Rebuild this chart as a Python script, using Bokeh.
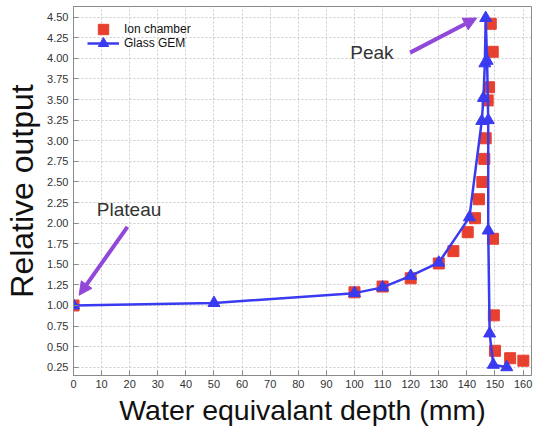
from bokeh.plotting import figure
from bokeh.models import (FixedTicker, NumeralTickFormatter, Arrow, NormalHead,
                          Label, Range1d, Legend, LegendItem)
from bokeh.embed import file_html
from bokeh.resources import INLINE

# ---- data ----
ion_x = [0, 100, 110, 120, 130, 135.2, 140.3, 142.9, 144.3, 145.5, 146.2, 146.7,
         147.4, 147.9, 148.5, 149.2, 149.3, 149.6, 150.0, 155.4, 160.1]
ion_y = [1.0, 1.16, 1.23, 1.33, 1.51, 1.66, 1.89, 2.06, 2.29, 2.50, 2.78, 3.03,
         3.49, 3.65, 4.42, 4.08, 1.81, 0.88, 0.45, 0.36, 0.33]

gem_x = [0, 50, 100, 110, 120, 130, 140.9, 145.3, 145.9, 146.4, 146.7, 147.2,
         147.6, 147.6, 148.1, 149.4, 154.2]
gem_y = [1.0, 1.03, 1.15, 1.22, 1.36, 1.52, 2.07, 3.24, 3.52, 3.94, 4.49, 3.97,
         3.25, 1.91, 0.66, 0.28, 0.25]

x_ticks = list(range(0, 161, 10))
y_ticks = [0.25 * i for i in range(1, 19)]

RED = "#e8402f"
BLUE = "#3a3af0"
PURPLE = "#9147d8"
FONT = "Liberation Sans"

p = figure(width=541, height=428, output_backend="svg", toolbar_location=None,
           x_range=Range1d(0, 163), y_range=Range1d(0.15, 4.63),
           min_border_left=73, min_border_right=10, min_border_top=6,
           min_border_bottom=51)

p.outline_line_color = "#8a8a8a"
p.outline_line_width = 1

for ax in (p.xaxis[0], p.yaxis[0]):
    ax.axis_line_color = "#8a8a8a"
    ax.major_tick_in = 5
    ax.major_tick_out = 0
    ax.minor_tick_line_color = None
    ax.major_tick_line_color = "#8a8a8a"
    ax.major_label_text_font = FONT
    ax.major_label_text_font_size = "11px"
    ax.major_label_text_color = "#333333"
    ax.axis_label_text_font = FONT
    ax.axis_label_text_font_style = "normal"
    ax.axis_label_text_color = "#111111"

p.xaxis.ticker = FixedTicker(ticks=x_ticks)
p.yaxis.ticker = FixedTicker(ticks=y_ticks)
p.yaxis.formatter = NumeralTickFormatter(format="0.00")
p.xaxis.axis_label = "Water equivalant depth (mm)"
p.yaxis.axis_label = "Relative output"
p.xaxis.axis_label_text_font_size = "28.5px"
p.yaxis.axis_label_text_font_size = "32px"
p.xaxis.major_label_standoff = 4
p.yaxis.major_label_standoff = 5
p.xaxis.axis_label_standoff = 3
p.yaxis.axis_label_standoff = 4

for g in (p.xgrid[0], p.ygrid[0]):
    g.grid_line_color = "#cccccc"
    g.grid_line_dash = "2 2"
    g.grid_line_width = 1

sq = p.scatter(ion_x, ion_y, marker="square", size=11, fill_color=RED,
               line_color=RED)
ln = p.line(gem_x, gem_y, line_color=BLUE, line_width=2.5)
tr = p.scatter(gem_x, gem_y, marker="triangle", size=12, fill_color=BLUE,
               line_color=BLUE)

leg_style = dict(padding=0, margin=0, glyph_width=32, glyph_height=26,
                 label_height=26, label_standoff=5, label_text_font=FONT,
                 label_text_font_size="12px", label_text_color="#111111",
                 background_fill_alpha=0, border_line_alpha=0)
leg1 = Legend(items=[LegendItem(label="Ion chamber", renderers=[sq])],
              location=(14, 333), **leg_style)
leg2 = Legend(items=[LegendItem(label="Glass GEM", renderers=[ln, tr])],
              location=(14, 319), **leg_style)
p.add_layout(leg1)
p.add_layout(leg2)

head = dict(size=13, fill_color=PURPLE, line_color=PURPLE)
p.add_layout(Arrow(end=NormalHead(**head), x_start=119.8, y_start=4.07,
                   x_end=143.5, y_end=4.49, line_color=PURPLE, line_width=4))
p.add_layout(Arrow(end=NormalHead(**head), x_start=19.2, y_start=1.955,
                   x_end=2.0, y_end=1.125, line_color=PURPLE, line_width=4))

p.add_layout(Label(x=98.5, y=4.07, text="Peak", text_font=FONT,
                   text_font_size="19px", text_color="#333333",
                   text_baseline="middle", text_align="left"))
p.add_layout(Label(x=8.3, y=2.16, text="Plateau", text_font=FONT,
                   text_font_size="19px", text_color="#333333",
                   text_baseline="middle", text_align="left"))

open("out.html", "w").write(file_html(p, INLINE))
